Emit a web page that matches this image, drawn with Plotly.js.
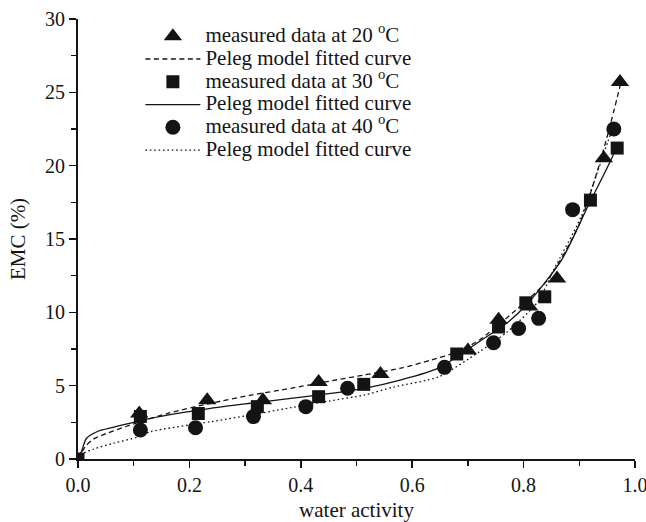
<!DOCTYPE html>
<html>
<head>
<meta charset="utf-8">
<script src="https://cdn.plot.ly/plotly-3.0.1.min.js"></script>
<style>html,body{margin:0;padding:0;background:#fff;}#chart{width:646px;height:522px;}</style>
</head>
<body>
<div id="chart"></div>
<script>
const aw20 = [0.11, 0.232, 0.332, 0.432, 0.543, 0.70, 0.755, 0.81, 0.86, 0.944, 0.973];
const emc20 = [3.1, 4.0, 4.0, 5.25, 5.8, 7.4, 9.5, 10.4, 12.3, 20.5, 25.7];
const aw30 = [0, 0.112, 0.216, 0.322, 0.432, 0.513, 0.68, 0.755, 0.804, 0.838, 0.92, 0.968];
const emc30 = [0, 2.9, 3.1, 3.57, 4.25, 5.09, 7.16, 9.0, 10.65, 11.06, 17.65, 21.2];
const aw40 = [0.112, 0.211, 0.315, 0.409, 0.484, 0.658, 0.746, 0.791, 0.827, 0.888, 0.962];
const emc40 = [1.98, 2.13, 2.89, 3.57, 4.82, 6.25, 7.93, 8.9, 9.59, 17.0, 22.5];

// Fitted curves
const fitAw20 = [0, 0.013, 0.027, 0.052, 0.094, 0.16, 0.238, 0.31, 0.382, 0.45, 0.514, 0.58, 0.634, 0.68, 0.72, 0.78, 0.843, 0.9, 0.933, 0.953, 0.975];
const fitEmc20 = [0, 0.84, 1.34, 1.75, 2.32, 3.1, 3.8, 4.35, 4.82, 5.3, 5.73, 6.2, 6.75, 7.3, 8.1, 9.95, 12.2, 16.0, 19.7, 22.4, 25.7];
const fitAw30 = [0, 0.007, 0.015, 0.034, 0.063, 0.1, 0.13, 0.238, 0.31, 0.382, 0.45, 0.514, 0.58, 0.647, 0.724, 0.773, 0.807, 0.868, 0.915, 0.957, 0.97];
const fitEmc30 = [0, 0.6, 1.4, 1.86, 2.16, 2.5, 2.77, 3.45, 3.8, 4.13, 4.45, 4.82, 5.4, 6.2, 8.1, 9.36, 10.6, 13.56, 17.2, 20.4, 21.6];
const fitAw40 = [0, 0.01, 0.027, 0.063, 0.106, 0.13, 0.238, 0.31, 0.382, 0.45, 0.514, 0.566, 0.647, 0.72, 0.77, 0.825, 0.854, 0.903, 0.951, 0.962];
const fitEmc40 = [0, 0.39, 0.66, 1.07, 1.48, 1.86, 2.54, 3.0, 3.5, 3.95, 4.36, 4.9, 5.6, 7.3, 8.65, 10.7, 12.9, 16.5, 21.6, 22.8];

const legendNames = [
  'measured data at 20 <sup>o</sup>C', 'Peleg model fitted curve',
  'measured data at 30 <sup>o</sup>C', 'Peleg model fitted curve',
  'measured data at 40 <sup>o</sup>C', 'Peleg model fitted curve'
];

const ink = '#141414';
const FONT = '"Liberation Serif", "Times New Roman", serif';
const big = s => '<span style="font-size:21px">' + s + '</span>';

const traces = [
  {x: aw20, y: emc20, name: big(legendNames[0]), mode: 'markers', type: 'scatter',
   marker: {symbol: 'triangle-up', size: 16, color: ink}},
  {x: fitAw20, y: fitEmc20, name: big(legendNames[1]), mode: 'lines', type: 'scatter',
   line: {color: ink, width: 1.3, dash: '5px,3.5px', shape: 'spline', smoothing: 0.7}},
  {x: aw30, y: emc30, name: big(legendNames[2]), mode: 'markers', type: 'scatter',
   marker: {symbol: 'square', size: 13, color: ink}},
  {x: fitAw30, y: fitEmc30, name: big(legendNames[3]), mode: 'lines', type: 'scatter',
   line: {color: ink, width: 1.3, shape: 'spline', smoothing: 0.7}},
  {x: aw40, y: emc40, name: big(legendNames[4]), mode: 'markers', type: 'scatter',
   marker: {symbol: 'circle', size: 15, color: ink}},
  {x: fitAw40, y: fitEmc40, name: big(legendNames[5]), mode: 'lines', type: 'scatter',
   line: {color: ink, width: 1.3, dash: '1.6px,2.8px', shape: 'spline', smoothing: 0.7}}
];

const layout = {
  width: 646, height: 522,
  margin: {l: 78, r: 11, t: 19, b: 63},
  paper_bgcolor: '#fff', plot_bgcolor: '#fff',
  font: {family: FONT, size: 20, color: ink},
  showlegend: true,
  legend: {x: 0.112, y: 0.998, xanchor: 'left', yanchor: 'top',
           bgcolor: 'rgba(0,0,0,0)', font: {family: FONT, size: 15.2, color: ink},
           itemwidth: 55, tracegroupgap: 0},
  xaxis: {
    range: [0, 1], dtick: 0.2, tickformat: '.1f', ticklabeloverflow: 'allow',
    showgrid: false, zeroline: false, showline: true, linecolor: ink, linewidth: 2,
    ticks: 'outside', ticklen: 7, tickwidth: 1.5, tickcolor: ink,
    minor: {dtick: 0.1, ticks: 'outside', ticklen: 5, tickwidth: 1.5, tickcolor: ink, showgrid: false},
    title: {text: 'water activity', font: {family: FONT, size: 21, color: ink}, standoff: 7},
    tickfont: {family: FONT, size: 20, color: ink}
  },
  yaxis: {
    range: [0, 30], dtick: 5,
    showgrid: false, zeroline: false, showline: true, linecolor: ink, linewidth: 2,
    ticks: 'outside', ticklen: 7, tickwidth: 1.5, tickcolor: ink,
    minor: {dtick: 2.5, ticks: 'outside', ticklen: 5, tickwidth: 1.5, tickcolor: ink, showgrid: false},
    title: {text: 'EMC (%)', font: {family: FONT, size: 21, color: ink}, standoff: 14},
    tickfont: {family: FONT, size: 20, color: ink}
  }
};

Plotly.newPlot('chart', traces, layout, {displayModeBar: false, staticPlot: true});
</script>
</body>
</html>
